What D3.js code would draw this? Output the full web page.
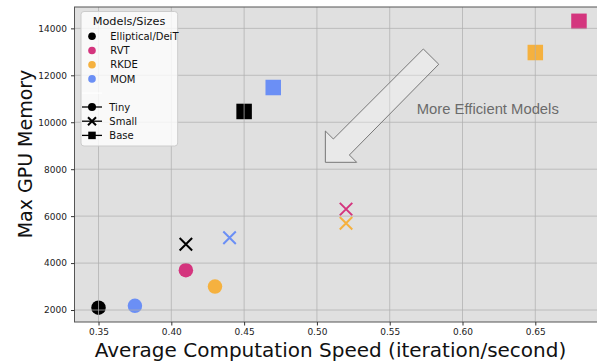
<!DOCTYPE html>
<html><head><meta charset="utf-8">
<script src="https://cdn.jsdelivr.net/npm/d3@7/dist/d3.min.js"></script>
<style>html,body{margin:0;padding:0;background:#fff;overflow:hidden}</style>
</head><body>
<svg id="c" width="597" height="362"></svg>
<script>
// ---- data ----
const models = ["Elliptical/DeiT", "RVT", "RKDE", "MOM"];
const modelColors = ["#000000", "#d4357e", "#f5b13f", "#6b8ff5"];
const sizes = ["Tiny", "Small", "Base"];
const speedTiny  = [0.35, 0.41, 0.43, 0.375];
const speedSmall = [0.41, 0.52, 0.52, 0.44];
const speedBase  = [0.45, 0.68, 0.65, 0.47];
const memTiny  = [2100, 3700, 3000, 2180];
const memSmall = [4800, 6300, 5700, 5080];
const memBase  = [10460, 14300, 12970, 11480];
const xTicks = [0.35, 0.40, 0.45, 0.50, 0.55, 0.60, 0.65];
const yTicks = [2000, 4000, 6000, 8000, 10000, 12000, 14000];
const arrowX = [0.5731, 0.5837, 0.5223, 0.5273, 0.5058, 0.5058, 0.5113];
const arrowY = [13121, 12469, 8605, 8293, 8293, 9627, 9286];
const annotText = "More Efficient Models";
const annotPos = [0.5686, 10350];

// ---- layout ----
const svg = d3.select("#c");
const L = 74.5, T = 7, B = 322, R = 603;
const x = d3.scaleLinear().domain([0.3335, 0.6965]).range([L, R]);
const y = d3.scaleLinear().domain([1490, 14910]).range([B, T]);

svg.append("rect").attr("x", L).attr("y", T).attr("width", R - L).attr("height", B - T).attr("fill", "#e0e0e0");

// points
const pts = [];
models.forEach((m, i) => {
  pts.push({s: "Tiny", x: speedTiny[i], y: memTiny[i], c: modelColors[i]});
  pts.push({s: "Small", x: speedSmall[i], y: memSmall[i], c: modelColors[i]});
  pts.push({s: "Base", x: speedBase[i], y: memBase[i], c: modelColors[i]});
});
const g = svg.append("g");
function marker(sel, s, cx, cy, c, sz) {
  if (s === "Tiny") sel.append("circle").attr("cx", cx).attr("cy", cy).attr("r", sz / 2).attr("fill", c);
  else if (s === "Base") sel.append("rect").attr("x", cx - sz / 2).attr("y", cy - sz / 2).attr("width", sz).attr("height", sz).attr("fill", c);
  else {
    const h = sz / 2;
    sel.append("path").attr("d", `M${cx - h},${cy - h}L${cx + h},${cy + h}M${cx - h},${cy + h}L${cx + h},${cy - h}`)
      .attr("stroke", c).attr("stroke-width", 2).attr("fill", "none");
  }
}
pts.forEach(p => {
  const sz = p.s === "Tiny" ? 14.5 : p.s === "Base" ? 15.5 : 12.5;
  marker(g, p.s, x(p.x), y(p.y), p.c, sz);
});

// grid on top
const grid = svg.append("g").attr("stroke", "#b0b0b0").attr("stroke-opacity", 0.75).attr("stroke-width", 1);
xTicks.forEach(t => grid.append("line").attr("x1", x(t)).attr("x2", x(t)).attr("y1", T).attr("y2", B));
yTicks.forEach(t => grid.append("line").attr("x1", L).attr("x2", R).attr("y1", y(t)).attr("y2", y(t)));

// frame
svg.append("rect").attr("x", L).attr("y", T).attr("width", R - L).attr("height", B - T)
  .attr("fill", "none").attr("stroke", "#555").attr("stroke-width", 1);

// axes
const xa = svg.append("g").attr("transform", `translate(0,${B})`)
  .call(d3.axisBottom(x).tickValues(xTicks).tickFormat(d3.format(".2f")).tickSize(3.5).tickPadding(3));
const ya = svg.append("g").attr("transform", `translate(${L},0)`)
  .call(d3.axisLeft(y).tickValues(yTicks).tickFormat(d => d).tickSize(3.5).tickPadding(4));
[xa, ya].forEach(a => {
  a.select(".domain").remove();
  a.selectAll("line").attr("stroke", "#333");
  a.selectAll("text").attr("font-family", "DejaVu Sans").attr("font-size", 9).attr("fill", "#222");
});

svg.append("text").attr("x", (93 + 568) / 2).attr("y", 357).attr("text-anchor", "middle")
  .attr("font-family", "DejaVu Sans").attr("font-size", 20).attr("fill", "#111").text("Average Computation Speed (iteration/second)");
svg.append("text").attr("transform", "translate(32,154) rotate(-90)").attr("text-anchor", "middle")
  .attr("font-family", "DejaVu Sans").attr("font-size", 19).attr("fill", "#111").text("Max GPU Memory");

// arrow annotation
const arrowPts = arrowX.map((v, i) => [x(v), y(arrowY[i])]);
svg.append("path").attr("d", d3.line()(arrowPts) + "Z")
  .attr("fill", "#ffffff").attr("fill-opacity", 0.3).attr("stroke", "#777").attr("stroke-width", 1);
svg.append("text").attr("x", x(annotPos[0])).attr("y", y(annotPos[1]))
  .attr("font-family", "Liberation Sans").attr("font-size", 14.8).attr("fill", "#6b6b6b").text(annotText);

// legend
const lg = svg.append("g");
lg.append("rect").attr("x", 81).attr("y", 11.5).attr("width", 96.7).attr("height", 134.5).attr("rx", 3)
  .attr("fill", "#ffffff").attr("fill-opacity", 0.8).attr("stroke", "#cccccc").attr("stroke-width", 1);
lg.append("text").attr("x", 129).attr("y", 25).attr("text-anchor", "middle")
  .attr("font-family", "DejaVu Sans").attr("font-size", 11.3).attr("fill", "#111").text("Models/Sizes");
const rowY0 = 36.3, rowDy = 14.2, mx = 92, tx = 110.3;
models.forEach((m, i) => {
  const cy = rowY0 + i * rowDy;
  lg.append("circle").attr("cx", mx).attr("cy", cy).attr("r", 3.8).attr("fill", modelColors[i]);
  lg.append("text").attr("x", tx).attr("y", cy + 3.6).attr("font-family", "DejaVu Sans").attr("font-size", 10).attr("fill", "#111").text(m);
});
{
  const cy = rowY0 + 4 * rowDy;
  lg.append("line").attr("x1", 82).attr("x2", 102).attr("y1", cy).attr("y2", cy).attr("stroke", "#fff").attr("stroke-width", 1.2);
}
sizes.forEach((s, i) => {
  const cy = rowY0 + (5 + i) * rowDy - 0.3;
  lg.append("line").attr("x1", 82).attr("x2", 102).attr("y1", cy).attr("y2", cy).attr("stroke", "#000").attr("stroke-width", 1.3);
  marker(lg, s, mx, cy, "#000", s === "Tiny" ? 8 : s === "Base" ? 7.5 : 8);
  lg.append("text").attr("x", tx - 1).attr("y", cy + 3.6).attr("font-family", "DejaVu Sans").attr("font-size", 10).attr("fill", "#111").text(s);
});
</script>
</body></html>
